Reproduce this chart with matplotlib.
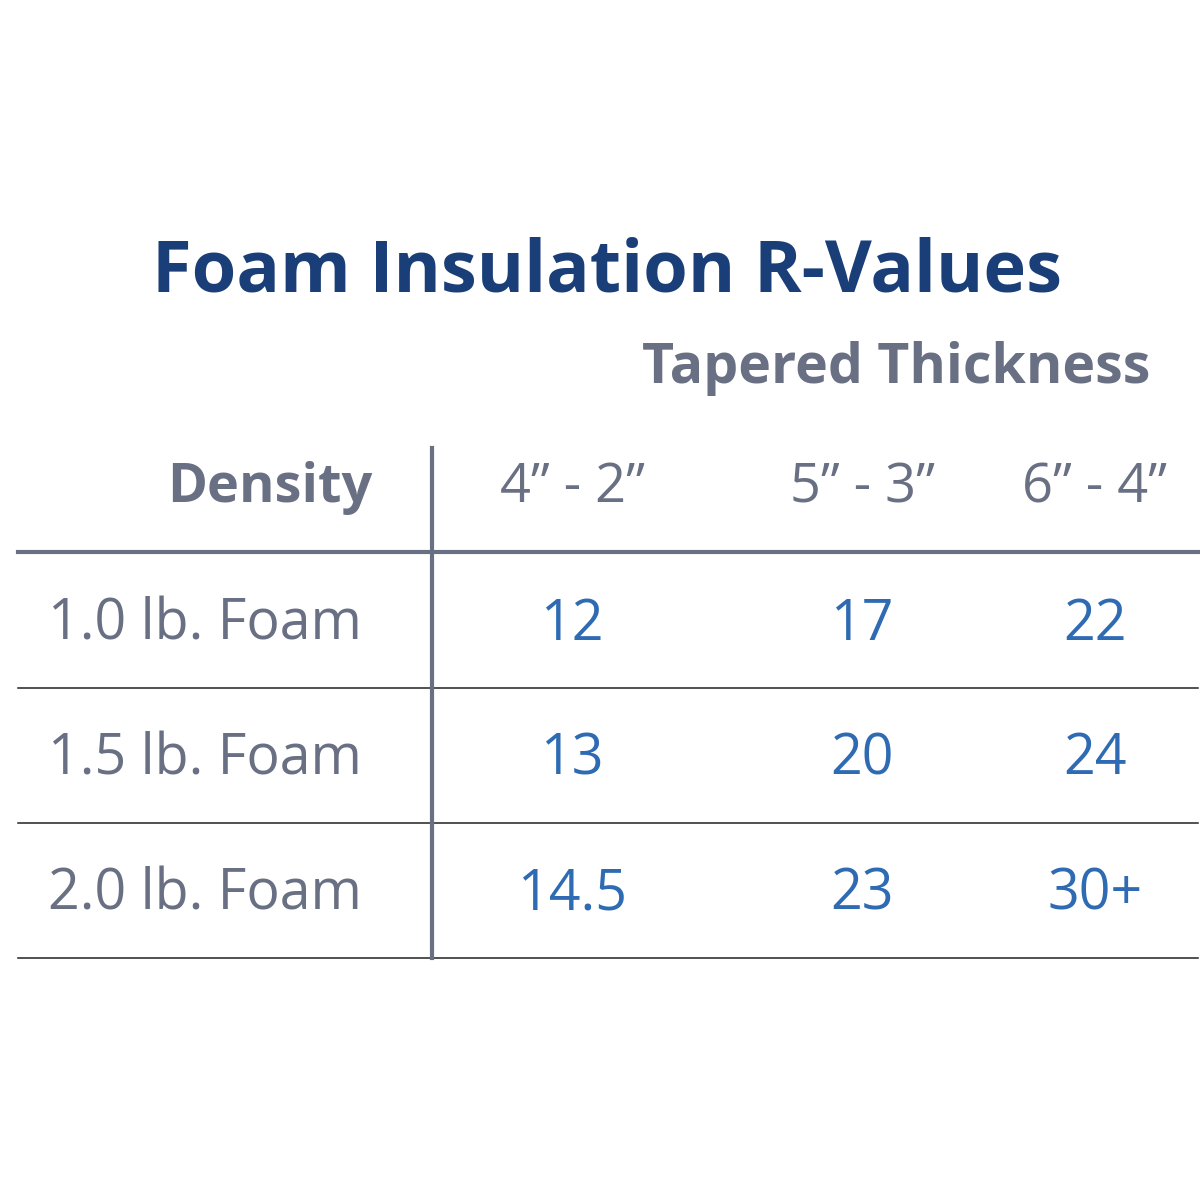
import matplotlib.pyplot as plt

title = 'Foam Insulation R-Values'
subtitle = 'Tapered Thickness'
row_header = 'Density'
columns = ['4\u201d - 2\u201d', '5\u201d - 3\u201d', '6\u201d - 4\u201d']
rows = ['1.0 lb. Foam', '1.5 lb. Foam', '2.0 lb. Foam']
values = [['12', '17', '22'],
          ['13', '20', '24'],
          ['14.5', '23', '30+']]

navy = '#1a3f78'
gray = '#6a7083'
blue = '#2f6bb3'
font = ['Open Sans', 'DejaVu Sans']

fig = plt.figure(figsize=(12, 12), dpi=100)
ax = fig.add_axes([0, 0, 1, 1])
ax.set_xlim(0, 1200)
ax.set_ylim(1200, 0)
ax.axis('off')

ax.text(607, 272, title, ha='center', va='center', fontsize=52, fontweight='bold', color=navy, family=font)
ax.text(1150, 368, subtitle, ha='right', va='center', fontsize=40, fontweight='bold', color=gray, family=font)
ax.text(372, 488, row_header, ha='right', va='center', fontsize=39, fontweight='bold', color=gray, family=font)

col_x = [572, 862, 1095]
for x, c in zip(col_x, columns):
    ax.text(x, 488, c, ha='center', va='center', fontsize=39, color=gray, family=font)

row_y = [625, 760, 895]
for y, r, vals in zip(row_y, rows, values):
    ax.text(362, y, r, ha='right', va='center', fontsize=40, color=gray, family=font)
    for x, v in zip(col_x, vals):
        ax.text(x, y, v, ha='center', va='center', fontsize=40, color=blue, family=font)

ax.plot([18, 1198], [552, 552], color=gray, lw=3)
for y in [688, 823, 958]:
    ax.plot([18, 1198], [y, y], color='#222222', lw=1.1)
ax.plot([432, 432], [448, 958], color=gray, lw=3)

fig.savefig('out.png', dpi=100, facecolor='white')
